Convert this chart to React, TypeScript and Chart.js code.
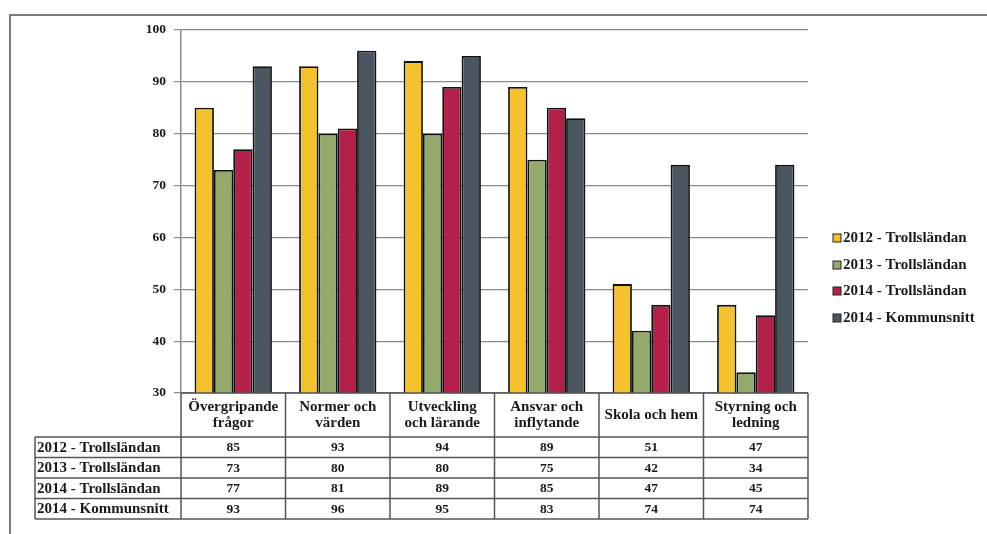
import React, { useEffect, useRef } from "react";
import { Chart, registerables } from "chart.js";

Chart.register(...registerables);

const categories: string[][] = [
  ["Övergripande", "frågor"],
  ["Normer och", "värden"],
  ["Utveckling", "och lärande"],
  ["Ansvar och", "inflytande"],
  ["Skola och hem"],
  ["Styrning och", "ledning"],
];
const seriesNames = ["2012 - Trollsländan", "2013 - Trollsländan", "2014 - Trollsländan", "2014 - Kommunsnitt"];
const values2012 = [85, 93, 94, 89, 51, 47];
const values2013 = [73, 80, 80, 75, 42, 34];
const values2014 = [77, 81, 89, 85, 47, 45];
const valuesKommun = [93, 96, 95, 83, 74, 74];
const seriesColors = ["#F4C22E", "#93AA6C", "#B3214B", "#4B5661"];
const yTicks = [30, 40, 50, 60, 70, 80, 90, 100];

const FAMILY = "'Liberation Serif', 'DejaVu Serif', serif";
const TEXT_FONT = `bold 15px ${FAMILY}`;
const NUM_FONT = `bold 13.5px ${FAMILY}`;

export default function App() {
  const ref = useRef<HTMLCanvasElement | null>(null);
  useEffect(() => {
    if (!ref.current) return;
    const allSeries = [values2012, values2013, values2014, valuesKommun];
    const tablePlugin = {
      id: "dataTable",
      afterDraw(chart: any) {
        const ctx = chart.ctx as CanvasRenderingContext2D;
        const area = chart.chartArea;
        const xs = chart.scales.x;
        const n = categories.length;
        const catW = (area.right - area.left) / n;
        const top = area.bottom;
        const headerBottom = top + 44;
        const rowH = 20.5;
        const tableLeft = 35;
        const bottom = headerBottom + rowH * allSeries.length;
        ctx.save();
        // outer frame
        ctx.strokeStyle = "#7a7a7a";
        ctx.lineWidth = 2;
        ctx.beginPath();
        ctx.moveTo(10, 534);
        ctx.lineTo(10, 15);
        ctx.lineTo(987, 15);
        ctx.stroke();
        // table lines
        ctx.strokeStyle = "#555";
        ctx.lineWidth = 1.5;
        ctx.beginPath();
        ctx.moveTo(area.left, top);
        ctx.lineTo(area.right, top);
        for (let r = 0; r <= allSeries.length; r++) {
          const y = headerBottom + r * rowH;
          ctx.moveTo(tableLeft, y);
          ctx.lineTo(area.right, y);
        }
        ctx.moveTo(tableLeft, headerBottom);
        ctx.lineTo(tableLeft, bottom);
        for (let i = 0; i <= n; i++) {
          const x = area.left + i * catW;
          ctx.moveTo(x, top);
          ctx.lineTo(x, bottom);
        }
        ctx.stroke();
        // header labels
        ctx.fillStyle = "#1a1a1a";
        ctx.font = TEXT_FONT;
        ctx.textAlign = "center";
        ctx.textBaseline = "middle";
        categories.forEach((lines, i) => {
          const cx = xs.getPixelForValue(i);
          if (lines.length === 1) {
            ctx.fillText(lines[0], cx, top + 22);
          } else {
            ctx.fillText(lines[0], cx, top + 14);
            ctx.fillText(lines[1], cx, top + 30);
          }
        });
        // rows
        allSeries.forEach((vals, r) => {
          const cy = headerBottom + r * rowH + rowH / 2 + 0.5;
          ctx.font = TEXT_FONT;
          ctx.textAlign = "left";
          ctx.fillText(seriesNames[r], tableLeft + 2, cy);
          ctx.font = NUM_FONT;
          ctx.textAlign = "center";
          vals.forEach((v, i) => {
            ctx.fillText(String(v), xs.getPixelForValue(i), cy);
          });
        });
        // legend
        const lx = 833;
        const ly = [238, 265, 291, 318];
        ctx.font = TEXT_FONT;
        seriesNames.forEach((name, r) => {
          ctx.fillStyle = seriesColors[r];
          ctx.fillRect(lx, ly[r] - 4, 8, 8);
          ctx.strokeStyle = "#222";
          ctx.lineWidth = 1;
          ctx.strokeRect(lx, ly[r] - 4, 8, 8);
          ctx.fillStyle = "#1a1a1a";
          ctx.textAlign = "left";
          ctx.fillText(name, lx + 10, ly[r] + 0.5);
        });
        ctx.restore();
      },
    };
    const chart = new Chart(ref.current, {
      type: "bar",
      data: {
        labels: categories.map((c) => c.join(" ")),
        datasets: allSeries.map((vals, i) => ({
          label: seriesNames[i],
          data: vals,
          backgroundColor: seriesColors[i],
          borderColor: "#111",
          borderWidth: 1.8,
          categoryPercentage: 0.74,
          barPercentage: 1,
        })),
      },
      options: {
        animation: false,
        responsive: true,
        maintainAspectRatio: false,
        layout: { padding: { left: 125, top: 30, right: 179, bottom: 141 } },
        plugins: { legend: { display: false }, tooltip: { enabled: false } },
        scales: {
          x: { display: false },
          y: {
            min: 30,
            max: 100,
            afterFit: (s: any) => {
              s.width = 56;
            },
            afterBuildTicks: (s: any) => {
              s.ticks = yTicks.map((v) => ({ value: v }));
            },
            grid: { color: "#8a8a8a", lineWidth: 1.2, tickLength: 7 },
            border: { color: "#8a8a8a", width: 1.5 },
            ticks: {
              color: "#1a1a1a",
              font: { family: FAMILY, size: 13.5, weight: "bold" },
              padding: 8,
            },
          },
        },
      },
      plugins: [tablePlugin],
    });
    return () => chart.destroy();
  }, []);
  return (
    <div style={{ position: "fixed", left: 0, top: 0, width: 987, height: 534, background: "#fff" }}>
      <canvas ref={ref} />
    </div>
  );
}
